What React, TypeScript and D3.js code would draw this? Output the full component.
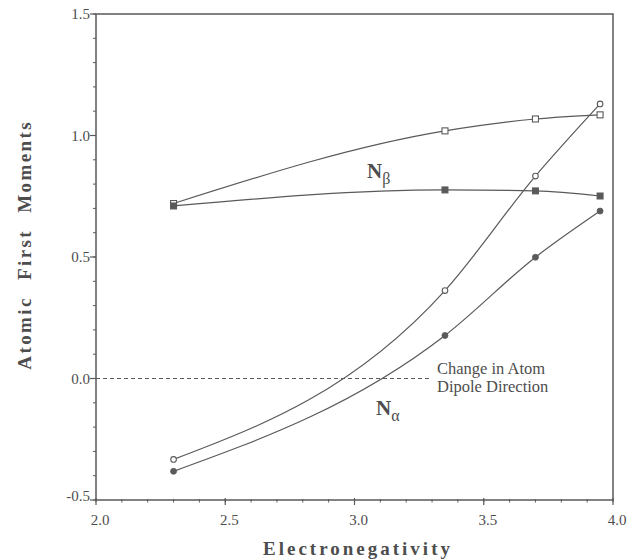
import React from "react";
import * as d3 from "d3";

const electroneg = [2.3, 3.35, 3.7, 3.95];
const nBetaOpen = [0.72, 1.019, 1.068, 1.085];
const nBetaFilled = [0.71, 0.776, 0.772, 0.751];
const nAlphaOpen = [-0.333, 0.362, 0.833, 1.13];
const nAlphaFilled = [-0.382, 0.177, 0.499, 0.689];
const xTicks = [2.0, 2.5, 3.0, 3.5, 4.0];
const yTicks = [-0.5, 0.0, 0.5, 1.0, 1.5];
const dipoleLineEnd = 3.29;

const W = 628;
const H = 559;
const INK = "#5a5a5a";
const TXT = "#4d4d4d";
const FONT = "'Liberation Serif', 'Times New Roman', serif";

export default function App() {
  const x = d3.scaleLinear().domain([2, 4]).range([96, 613]);
  const y = d3.scaleLinear().domain([-0.5, 1.5]).range([500, 14]);
  const line = (vals: number[]) =>
    d3
      .line<number>()
      .x((_, i) => x(electroneg[i]))
      .y((v) => y(v))
      .curve(d3.curveMonotoneX)(vals) || "";

  const minorX = d3.range(20, 41).map((v) => v / 10);
  const minorY = d3.range(-5, 16).map((v) => v / 10);

  return (
    <svg width={W} height={H} style={{ display: "block", position: "absolute", left: 0, top: 0, background: "#fff" }}>
      <rect width={W} height={H} fill="#fff" />
      {/* frame */}
      <rect x={x(2)} y={y(1.5)} width={x(4) - x(2)} height={y(-0.5) - y(1.5)} fill="none" stroke={INK} strokeWidth={1.5} />
      {/* minor ticks */}
      {minorX.map((v, i) => (
        <line key={"mx" + i} x1={x(v)} x2={x(v)} y1={y(-0.5) - 1} y2={y(-0.5) + 2.5} stroke={INK} strokeWidth={1} />
      ))}
      {minorY.map((v, i) => (
        <line key={"my" + i} x1={x(2) - 3} x2={x(2)} y1={y(v)} y2={y(v)} stroke={INK} strokeWidth={1} />
      ))}
      {xTicks.map((v) => (
        <g key={"xt" + v}>
          <line x1={x(v)} x2={x(v)} y1={y(-0.5) - 2} y2={y(-0.5) + 5} stroke={INK} strokeWidth={1.2} />
          <text x={x(v) + 4} y={y(-0.5) + 25} textAnchor="middle" fontFamily={FONT} fontSize={15} fill={TXT}>
            {v.toFixed(1)}
          </text>
        </g>
      ))}
      {yTicks.map((v) => (
        <g key={"yt" + v}>
          <line x1={x(2) - 6} x2={x(2)} y1={y(v)} y2={y(v)} stroke={INK} strokeWidth={1.2} />
          <text x={x(2) - 6} y={y(v) + (v === -0.5 ? 1 : 5)} textAnchor="end" fontFamily={FONT} fontSize={15} fill={TXT}>
            {v.toFixed(1)}
          </text>
        </g>
      ))}
      {/* dashed zero line */}
      <line x1={x(2)} x2={x(dipoleLineEnd)} y1={y(0)} y2={y(0)} stroke={INK} strokeWidth={1.2} strokeDasharray="4,3" />
      <text x={437} y={374} fontFamily={FONT} fontSize={16.5} fill={TXT}>Change in Atom</text>
      <text x={437} y={392} fontFamily={FONT} fontSize={16.5} fill={TXT}>Dipole Direction</text>

      {/* curves */}
      {[nBetaOpen, nBetaFilled, nAlphaOpen, nAlphaFilled].map((s, i) => (
        <path key={"c" + i} d={line(s)} fill="none" stroke={INK} strokeWidth={1.2} />
      ))}
      {/* markers */}
      {nBetaOpen.map((v, i) => (
        <rect key={"bo" + i} x={x(electroneg[i]) - 3} y={y(v) - 3} width={6} height={6} fill="#fff" stroke={INK} strokeWidth={1.1} />
      ))}
      {nBetaFilled.map((v, i) => (
        <rect key={"bf" + i} x={x(electroneg[i]) - 3} y={y(v) - 3} width={6} height={6} fill={INK} stroke={INK} strokeWidth={1} />
      ))}
      {nAlphaOpen.map((v, i) => (
        <circle key={"ao" + i} cx={x(electroneg[i])} cy={y(v)} r={2.8} fill="#fff" stroke={INK} strokeWidth={1.1} />
      ))}
      {nAlphaFilled.map((v, i) => (
        <circle key={"af" + i} cx={x(electroneg[i])} cy={y(v)} r={3} fill={INK} stroke={INK} strokeWidth={0.8} />
      ))}

      {/* series labels */}
      <text x={367} y={178} fontFamily={FONT} fontSize={21} fontWeight="bold" fill={TXT}>
        N<tspan dy={6} fontSize={16} fontWeight="normal">β</tspan>
      </text>
      <text x={376} y={415} fontFamily={FONT} fontSize={21} fontWeight="bold" fill={TXT}>
        N<tspan dy={6} fontSize={16} fontWeight="normal">α</tspan>
      </text>

      {/* axis titles */}
      <text x={358} y={555} textAnchor="middle" fontFamily={FONT} fontSize={19} fontWeight="bold" letterSpacing={3} fill={TXT}>
        Electronegativity
      </text>
      <text
        transform={`translate(31, ${y(0.55)}) rotate(-90)`}
        textAnchor="middle"
        fontFamily={FONT}
        fontSize={19}
        fontWeight="bold"
        letterSpacing={2.4}
        wordSpacing={9}
        fill={TXT}
      >
        Atomic First Moments
      </text>
    </svg>
  );
}
